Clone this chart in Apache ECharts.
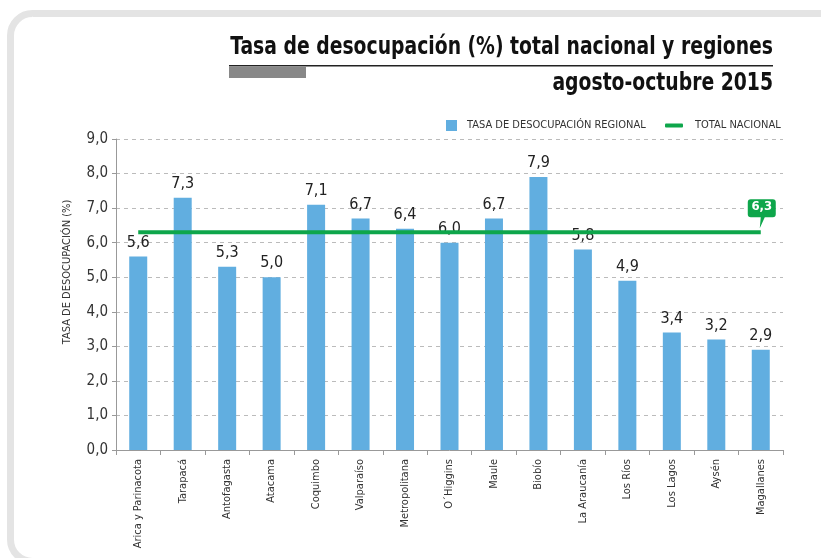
<!DOCTYPE html>
<html>
<head>
<meta charset="utf-8">
<script src="https://cdn.jsdelivr.net/npm/echarts@6/dist/echarts.min.js"></script>
<style>
  html, body { margin: 0; padding: 0; background: #fff; }
  #main { width: 821px; height: 558px; }
</style>
</head>
<body>
<div id="main"></div>
<script>
// regiones
var regiones = ['Arica y Parinacota', 'Tarapacá', 'Antofagasta', 'Atacama', 'Coquimbo',
    'Valparaíso', 'Metropolitana', 'O´Higgins', 'Maule', 'Biobío', 'La Araucanía',
    'Los Ríos', 'Los Lagos', 'Aysén', 'Magallanes'];

// tasa de desocupación regional (%)
var tasaRegional = [5.6, 7.3, 5.3, 5.0, 7.1, 6.7, 6.4, 6.0, 6.7, 7.9, 5.8, 4.9, 3.4, 3.2, 2.9];

// total nacional (%)
var totalNacional = 6.3;

var ejeY = { min: 0, max: 9, interval: 1 };

var FUENTE = "'Liberation Sans Narrow', 'DejaVu Sans Condensed', 'Noto Sans', sans-serif";
var AZUL = '#61aee0';
var VERDE = '#0ea64b';

function coma(v, dec) {
    return Number(v).toFixed(dec).replace('.', ',');
}

var lineaNacional = [];
for (var i = 0; i < regiones.length; i++) {
    lineaNacional.push(totalNacional);
}

var myChart = echarts.init(document.getElementById('main'), null, { renderer: 'canvas' });

var option = {
    backgroundColor: '#fff',
    animation: false,
    textStyle: { fontFamily: FUENTE },
    legend: [{
        data: ['TASA DE DESOCUPACIÓN REGIONAL'],
        left: 446,
        top: 120,
        padding: 0,
        itemWidth: 11,
        itemHeight: 11,
        icon: 'rect',
        textStyle: { fontFamily: FUENTE, fontSize: 11, color: '#333', padding: [0, 0, 0, 5] }
    }, {
        data: [{ name: 'TOTAL NACIONAL', icon: 'roundRect' }],
        left: 665,
        top: 120,
        padding: 0,
        itemWidth: 18,
        itemHeight: 4,
        textStyle: { fontFamily: FUENTE, fontSize: 11, color: '#333', padding: [0, 0, 0, 7] }
    }],
    grid: { left: 116, right: 38, top: 139, bottom: 108 },
    xAxis: {
        type: 'category',
        data: regiones,
        axisLine: { lineStyle: { color: '#999' } },
        axisTick: { show: true, length: 5, lineStyle: { color: '#999' } },
        axisLabel: {
            interval: 0,
            rotate: 90,
            margin: 9,
            fontSize: 11,
            color: '#333',
            fontFamily: FUENTE
        }
    },
    yAxis: {
        type: 'value',
        min: ejeY.min,
        max: ejeY.max,
        interval: ejeY.interval,
        axisLine: { show: true, lineStyle: { color: '#999' } },
        axisTick: { show: true, length: 4, lineStyle: { color: '#999' } },
        axisLabel: {
            margin: 8,
            fontSize: 15,
            color: '#333',
            fontFamily: FUENTE,
            formatter: function (v) { return coma(v, 1); }
        },
        splitLine: { lineStyle: { color: '#bbb', type: [4, 4] } }
    },
    series: [{
        name: 'TASA DE DESOCUPACIÓN REGIONAL',
        type: 'bar',
        data: tasaRegional,
        barWidth: 18,
        itemStyle: { color: AZUL },
        label: {
            show: true,
            position: 'top',
            distance: 6,
            fontSize: 16,
            color: '#222',
            fontFamily: FUENTE,
            formatter: function (p) { return coma(p.value, 1); }
        }
    }, {
        name: 'TOTAL NACIONAL',
        type: 'line',
        data: lineaNacional,
        symbol: 'none',
        z: 3,
        lineStyle: { color: VERDE, width: 4 },
        itemStyle: { color: VERDE },
        markPoint: {
            symbol: 'path://M3,0 H25 Q28,0 28,3 V15 Q28,18 25,18 H17 L12,29 L13,18 H3 Q0,18 0,15 V3 Q0,0 3,0 Z',
            symbolSize: [28, 29],
            symbolOffset: [1, -18.5],
            itemStyle: { color: VERDE },
            label: {
                show: true,
                position: 'inside',
                offset: [0, -7],
                color: '#fff',
                fontSize: 13,
                fontWeight: 'bold',
                fontFamily: FUENTE,
                formatter: function (p) { return coma(p.value, 1); }
            },
            data: [{ coord: [regiones.length - 1, totalNacional], value: totalNacional }]
        }
    }],
    graphic: [{
        type: 'rect',
        silent: true,
        shape: { x: 10.5, y: 13.5, width: 840, height: 548, r: 22 },
        style: { fill: 'none', stroke: '#e4e4e4', lineWidth: 7 }
    }, {
        type: 'text',
        silent: true,
        x: 773,
        y: 60,
        scaleX: 0.87,
        style: {
            text: 'Tasa de desocupación (%) total nacional y regiones',
            fontFamily: FUENTE,
            fontSize: 24,
            fontWeight: 'bold',
            fill: '#111',
            align: 'right',
            verticalAlign: 'bottom'
        }
    }, {
        type: 'text',
        silent: true,
        x: 773,
        y: 96,
        scaleX: 0.87,
        style: {
            text: 'agosto-octubre 2015',
            fontFamily: FUENTE,
            fontSize: 24,
            fontWeight: 'bold',
            fill: '#111',
            align: 'right',
            verticalAlign: 'bottom'
        }
    }, {
        type: 'rect',
        silent: true,
        shape: { x: 229, y: 65, width: 544, height: 1.5 },
        style: { fill: '#222' }
    }, {
        type: 'rect',
        silent: true,
        shape: { x: 229, y: 67, width: 77, height: 11 },
        style: { fill: '#888' }
    }, {
        type: 'text',
        silent: true,
        x: 67,
        y: 272,
        rotation: Math.PI / 2,
        style: {
            text: 'TASA DE DESOCUPACIÓN (%)',
            fontFamily: FUENTE,
            fontSize: 11,
            fill: '#333',
            align: 'center',
            verticalAlign: 'middle'
        }
    }]
};

myChart.setOption(option);
</script>
</body>
</html>
